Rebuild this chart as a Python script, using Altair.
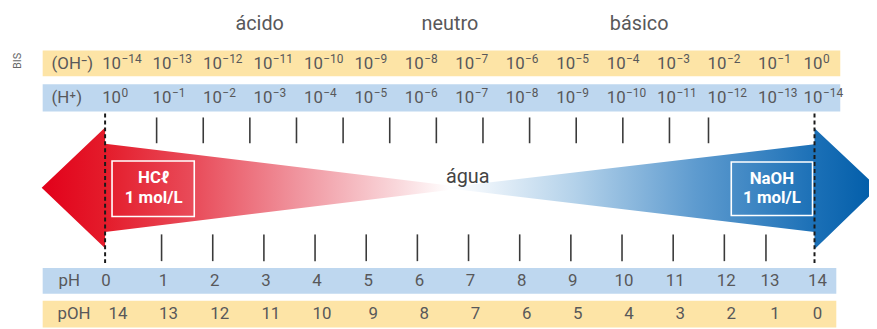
import altair as alt
import pandas as pd

# ---------------- data ----------------
ph_values = list(range(15))                      # pH 0..14
poh_values = [14 - v for v in ph_values]         # pOH 14..0
h_exponents = ["0", "−1", "−2", "−3", "−4", "−5", "−6", "−7",
               "−8", "−9", "−10", "−11", "−12", "−13", "−14"]
oh_exponents = list(reversed(h_exponents))
tick_index = list(range(1, 14))
regions = ["ácido", "neutro", "básico"]

# ---------------- layout ----------------
W, H, M = 869, 321, 8
FONT = "Roboto"
GRAY = "#58585a"
YEL = "#fde4a6"
BLU = "#bed7ef"


def P(v):
    return v - M


one = alt.Data(values=[{}])


def rect(x1, x2, y1, y2, **kw):
    return alt.Chart(one).mark_rect(**kw).encode(
        x=alt.value(P(x1)), x2=alt.value(P(x2)),
        y=alt.value(P(y1)), y2=alt.value(P(y2)))


def label(text, x, y, size=17, color=GRAY, align="left", weight="normal", angle=0):
    return alt.Chart(one).mark_text(
        text=text, align=align, baseline="middle", fontSize=size, font=FONT,
        color=color, fontWeight=weight, angle=angle).encode(
        x=alt.value(P(x)), y=alt.value(P(y)))


def sc(domain, rng):
    return alt.Scale(domain=domain, range=[P(r) for r in rng], nice=False, zero=False)


col_scale = sc([0, 13, 14], [103, 765, 811])
ph_scale = sc([0, 1, 12, 13, 14], [107, 165, 733, 777, 825])
poh_scale = sc([0, 1, 12, 13, 14], [119, 170, 738, 782, 825])
up_tick_scale = sc([1, 12, 13], [158, 675.6, 715])
low_tick_scale = sc([1, 12, 13], [163, 731, 773])
xs = sc([M, W + M], [M, W + M])
ys = sc([M, H + M], [M, H + M])

conc_df = pd.DataFrame({"col": ph_values, "h": h_exponents, "oh": oh_exponents})
ph_df = pd.DataFrame({"col": ph_values, "label": [str(v) for v in ph_values]})
poh_df = pd.DataFrame({"col": ph_values, "label": [str(v) for v in poh_values]})
ticks_df = pd.DataFrame({"i": tick_index})

# arrow outlines (decorative geometry, points in drawing order)
left_arrow = pd.DataFrame({"x": [42, 106, 106, 472],
                           "top": [188, 127, 143.5, 188], "bot": [188, 249, 232.5, 188]})
right_arrow = pd.DataFrame({"x": [448, 822, 822, 886],
                            "top": [188, 144, 128, 188], "bot": [188, 232.5, 250, 188]})


def grad(stops):
    return alt.LinearGradient(
        gradient="linear", x1=0, x2=1, y1=0, y2=0,
        stops=[alt.GradientStop(offset=o, color=c) for o, c in stops])


red_grad = grad([(0, "#e2001a"), (0.15, "#e41c2b"), (0.37, "#e94f5d"),
                 (0.60, "#f0949e"), (0.83, "#f9d6da"), (0.96, "#ffffff"), (1, "#ffffff")])
blue_grad = grad([(0, "#ffffff"), (0.07, "#f2f7fc"), (0.30, "#b4d2ea"),
                  (0.58, "#5e9bcf"), (0.86, "#1a6fb6"), (1, "#005ca8")])


def arrow(df, g):
    return alt.Chart(df).mark_area(color=g).encode(
        x=alt.X("x:Q", scale=xs, axis=None),
        y=alt.Y("top:Q", scale=ys, axis=None),
        y2="bot:Q")


layers = []
# bands
layers += [rect(43, 848, 49.5, 75.5, color=YEL),
           rect(43, 848, 83.5, 111, color=BLU),
           rect(43, 844, 269, 295, color=BLU),
           rect(43, 844, 302, 329, color=YEL)]

# headers
layers += [label(regions[0], 262, 23, size=20, align="center"),
           label(regions[1], 454, 23, size=20, align="center"),
           label(regions[2], 645, 23, size=20, align="center"),
           label("BIS", 18, 60, size=11, color="#666666", align="center", angle=270)]

# arrows
layers += [arrow(left_arrow, red_grad), arrow(right_arrow, blue_grad)]

# dashed limits
for xv in (106, 822):
    layers.append(alt.Chart(one).mark_rule(color="#1a1a1a", strokeWidth=2, strokeDash=[4, 3]).encode(
        x=alt.value(P(xv)), y=alt.value(P(113)), y2=alt.value(P(266))))

# boxes
layers += [rect(113, 196, 161, 217, filled=False, stroke="white", strokeWidth=1.6),
           rect(738, 820, 162, 216, filled=False, stroke="white", strokeWidth=1.6),
           label("HCℓ", 155, 178, color="white", align="center", weight="bold"),
           label("1 mol/L", 155, 198, color="white", align="center", weight="bold"),
           label("NaOH", 779, 179, color="white", align="center", weight="bold"),
           label("1 mol/L", 779, 198, color="white", align="center", weight="bold"),
           label("água", 472, 177, size=20, color="#444444", align="center")]

# ticks
layers.append(alt.Chart(ticks_df).mark_rule(color="#3a3a3a", strokeWidth=1.6).encode(
    x=alt.X("i:Q", scale=up_tick_scale, axis=None), y=alt.value(P(117)), y2=alt.value(P(143))))
layers.append(alt.Chart(ticks_df).mark_rule(color="#3a3a3a", strokeWidth=1.6).encode(
    x=alt.X("i:Q", scale=low_tick_scale, axis=None), y=alt.value(P(235)), y2=alt.value(P(262))))

# row labels
layers += [label("(OH⁻)", 52, 63), label("(H⁺)", 52, 97.5),
           label("pH", 59, 282.5), label("pOH", 58, 315.5)]


def power_row(field, yc):
    base = alt.Chart(conc_df).mark_text(
        text="10", align="left", baseline="middle", fontSize=17, font=FONT, color=GRAY).encode(
        x=alt.X("col:Q", scale=col_scale, axis=None), y=alt.value(P(yc)))
    exp = alt.Chart(conc_df).mark_text(
        align="left", baseline="middle", fontSize=12, font=FONT, color=GRAY, dx=19.5, dy=-5).encode(
        x=alt.X("col:Q", scale=col_scale, axis=None), y=alt.value(P(yc)), text=f"{field}:N")
    return [base, exp]


layers += power_row("oh", 63)
layers += power_row("h", 97.5)


def num_row(df, scale, yc):
    return alt.Chart(df).mark_text(
        align="center", baseline="middle", fontSize=17, font=FONT, color=GRAY).encode(
        x=alt.X("col:Q", scale=scale, axis=None), y=alt.value(P(yc)), text="label:N")


layers += [num_row(ph_df, ph_scale, 282.5), num_row(poh_df, poh_scale, 315.5)]

chart = alt.layer(*layers).resolve_scale(x="independent", y="independent").properties(
    width=W, height=H, padding=0, background="white",
    autosize=alt.AutoSizeParams(type="none")).configure_view(stroke=None)

chart.save("out.html", embed_options={"renderer": "svg", "actions": False})
